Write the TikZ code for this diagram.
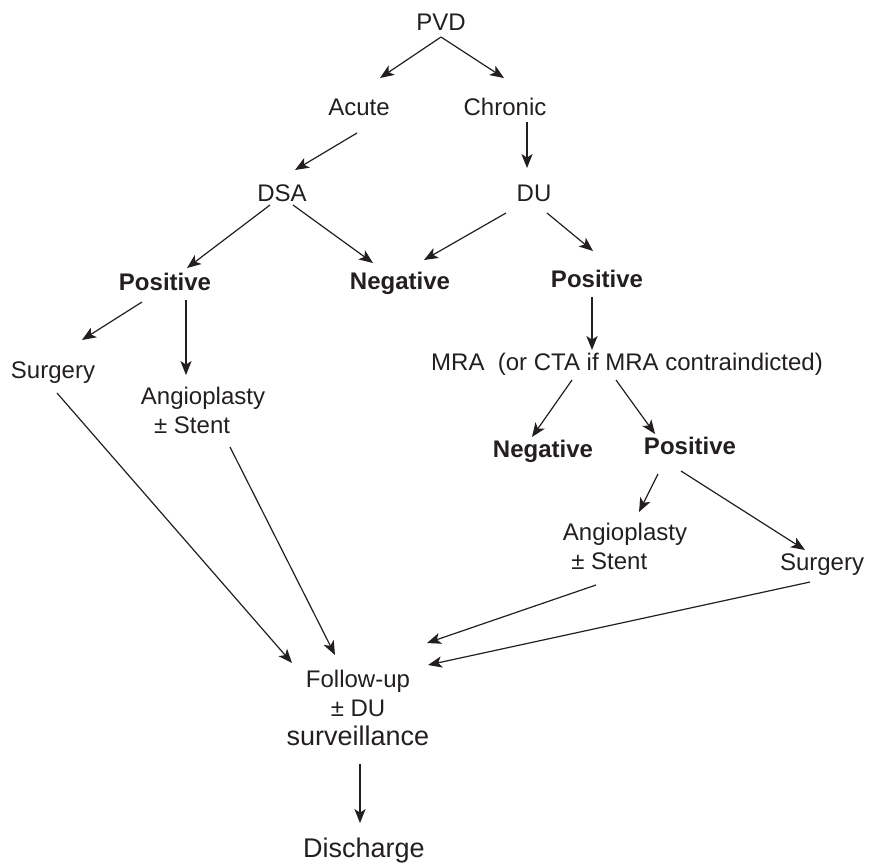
\documentclass[tikz,border=0pt]{standalone}
\usepackage{fontspec}
\setmainfont{Liberation Sans}
\usetikzlibrary{arrows.meta}
\definecolor{ink}{RGB}{35,31,32}

\begin{document}
\begin{tikzpicture}[x=0.5pt,y=-0.5pt,
    lbl/.style={inner sep=0pt,anchor=base,text=ink,font=\fontsize{12}{14.4}\selectfont},
    blbl/.style={lbl,font=\fontsize{12}{14.4}\selectfont\bfseries},
    multi/.style={inner sep=0pt,anchor=north,text=ink,font=\fontsize{12}{14.4}\selectfont},
    arr/.style={-{Stealth[length=7pt,width=5.6pt,inset=1.8pt]},draw=ink,line width=0.6pt}]
    \useasboundingbox (0,0) rectangle (870,863);

    \node[lbl] (pvd) at (441,30) {PVD};
    \node[lbl] (acute) at (359,115) {Acute};
    \node[lbl] (chronic) at (505,115) {Chronic};
    \node[lbl] (dsa) at (282,201) {DSA};
    \node[lbl] (du) at (534,201) {DU};

    \node[blbl] (posL) at (165,290) {Positive};
    \node[blbl] (negL) at (400,289) {Negative};
    \node[blbl] (posR) at (597,287) {Positive};

    \node[lbl] (surgL) at (53,378) {Surgery};
    \node[multi,align=left] (angL) at (203,387) {Angioplasty\\\hspace*{0.55em}± Stent};

    \node[lbl] (mra) at (627,370) {MRA~~(or CTA if MRA contraindicted)};
    \node[blbl] (negR) at (543,457) {Negative};
    \node[blbl] (posR2) at (690,454) {Positive};
    \node[multi,align=left] (angR) at (625,523) {Angioplasty\\\hspace*{0.35em}± Stent};
    \node[lbl] (surgR) at (822,570) {Surgery};

    \node[multi,align=center] (fu) at (358,670) {Follow-up\\± DU\\{\fontsize{13.5}{14.4}\selectfont surveillance}};
    \node[lbl,font=\fontsize{13.5}{16}\selectfont] (dis) at (364,857) {Discharge};

    % top part
    \draw[arr] ([shift={(0,7)}]pvd.base) -- ([shift={(21,-37)}]acute.base);
    \draw[arr] ([shift={(0,7)}]pvd.base) -- ([shift={(-1,-37)}]chronic.base);
    \draw[arr] ([shift={(-2,18)}]acute.base) -- ([shift={(13,-31)}]dsa.base);
    \draw[arr] ([shift={(22,7)}]chronic.base) -- ([shift={(-7,-33)}]du.base);

    \draw[arr] ([shift={(-12,4)}]dsa.base) -- ([shift={(22,-22)}]posL.base);
    \draw[arr] ([shift={(11,4)}]dsa.base) -- ([shift={(-27,-26)}]negL.base);
    \draw[arr] ([shift={(-28,12)}]du.base) -- ([shift={(24,-29)}]negL.base);
    \draw[arr] ([shift={(13,12)}]du.base) -- ([shift={(-4,-36)}]posR.base);

    % left branch
    \draw[arr] ([shift={(-23,12)}]posL.base) -- ([shift={(29,-38)}]surgL.base);
    \draw[arr] ([shift={(21,10)}]posL.base) -- ([shift={(-17,-12)}]angL.north);

    % right branch
    \draw[arr] ([shift={(-5,10)}]posR.base) -- ([shift={(-35,-20)}]mra.base);
    \draw[arr] ([shift={(-55,10)}]mra.base) -- ([shift={(-11,-20)}]negR.base);
    \draw[arr] ([shift={(-11,10)}]mra.base) -- ([shift={(-35,-20)}]posR2.base);
    \draw[arr] ([shift={(-32,20)}]posR2.base) -- ([shift={(14,-11)}]angR.north);
    \draw[arr] ([shift={(-9,17)}]posR2.base) -- ([shift={(-17,-20)}]surgR.base);

    % to follow-up
    \draw[arr] ([shift={(4,15)}]surgL.base) -- ([shift={(-66,-7)}]fu.north);
    \draw[arr] ([shift={(27,60)}]angL.north) -- ([shift={(-23,-15)}]fu.north);
    \draw[arr] ([shift={(-29,62)}]angR.north) -- ([shift={(69,-27)}]fu.north);
    \draw[arr] ([shift={(-12,12)}]surgR.base) -- ([shift={(70,-5)}]fu.north);
    \draw[arr] ([shift={(2,94)}]fu.north) -- ([shift={(-4,-34)}]dis.base);
\end{tikzpicture}
\end{document}
